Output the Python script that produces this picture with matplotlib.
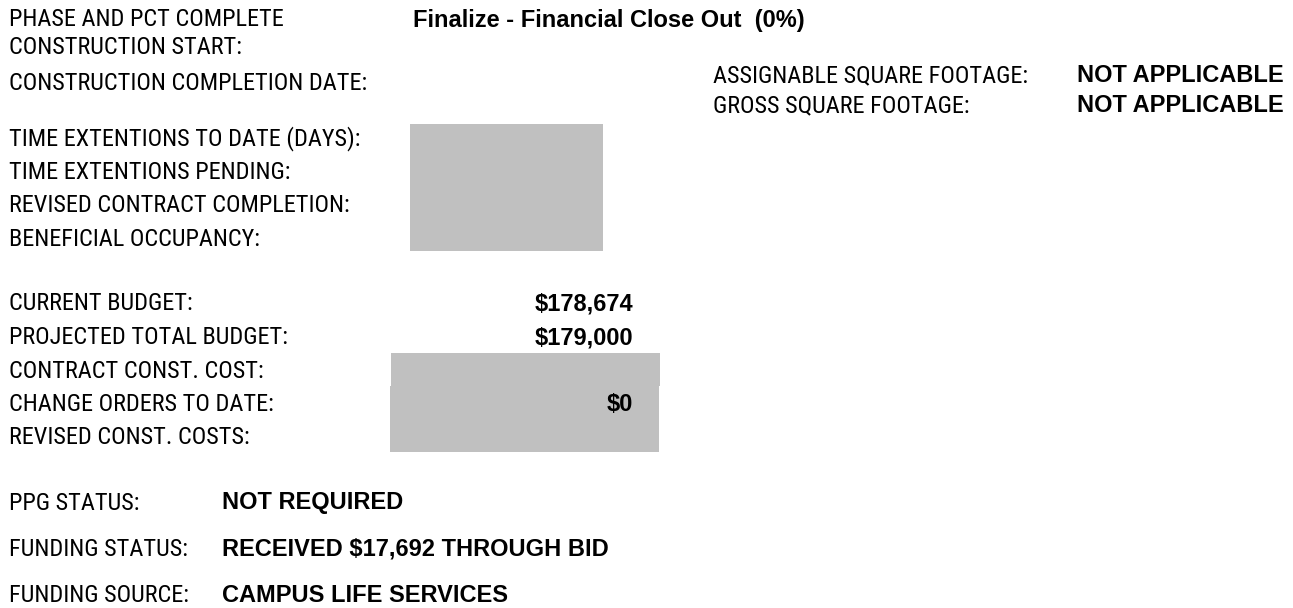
import matplotlib
matplotlib.use("Agg")
import matplotlib.pyplot as plt
from matplotlib.patches import Rectangle
from matplotlib import font_manager

W, H = 1293, 608

# labels and values of the status sheet
group1_labels = ['PHASE AND PCT COMPLETE', 'CONSTRUCTION START:', 'CONSTRUCTION COMPLETION DATE:']
group1_rows = [18, 45, 81]
phase_value = 'Finalize - Financial Close Out  (0%)'
area_labels = ['ASSIGNABLE SQUARE FOOTAGE:', 'GROSS SQUARE FOOTAGE:']
area_values = ['NOT APPLICABLE', 'NOT APPLICABLE']
area_rows = [74, 104]
time_labels = ['TIME EXTENTIONS TO DATE (DAYS):', 'TIME EXTENTIONS PENDING:',
               'REVISED CONTRACT COMPLETION:', 'BENEFICIAL OCCUPANCY:']
budget_labels = ['CURRENT BUDGET:', 'PROJECTED TOTAL BUDGET:', 'CONTRACT CONST. COST:',
                 'CHANGE ORDERS TO DATE:', 'REVISED CONST. COSTS:']
budget_values = ['$178,674', '$179,000', '', '$0', '']
status_labels = ['PPG STATUS:', 'FUNDING STATUS:', 'FUNDING SOURCE:']
status_values = ['NOT REQUIRED', 'RECEIVED $17,692 THROUGH BID', 'CAMPUS LIFE SERVICES']

# look for a narrow sans face (the sheet uses Arial Narrow for labels)
narrow_file = None
for f in font_manager.fontManager.ttflist:
    n = f.name.lower()
    st = str(f.stretch).lower()
    if ('narrow' in n or 'condensed' in n or 'condensed' in st) and f.weight in (400, 'normal', 'regular') \
            and f.style == 'normal' and 'mono' not in n and 'serif' not in n:
        if narrow_file is None or 'liberation' in n or 'roboto' in n:
            narrow_file = f.fname
if narrow_file:
    label_font = font_manager.FontProperties(fname=narrow_file, size=17.5)
else:
    label_font = font_manager.FontProperties(family='Liberation Sans', size=14)
value_font = font_manager.FontProperties(family='Liberation Sans', weight='bold', size=17)

fig = plt.figure(figsize=(W / 100, H / 100), dpi=100)
fig.patch.set_facecolor('white')


def fx(px):
    return px / W


def fy(py):
    return 1 - py / H


def label(x, y, s):
    fig.text(fx(x), fy(y + 8.5), s, fontproperties=label_font,
             ha='left', va='baseline', color='#000000')


def value(x, y, s, ha='left'):
    fig.text(fx(x), fy(y + 8.5), s, fontproperties=value_font,
             ha=ha, va='baseline', color='#000000')


def box(x0, y0, x1, y1):
    fig.add_artist(Rectangle((fx(x0), fy(y1)), fx(x1) - fx(x0), fy(y0) - fy(y1),
                             transform=fig.transFigure, facecolor='#C0C0C0',
                             edgecolor='none', zorder=0))


# gray blocks
box(410, 124, 603, 251)
box(391, 353, 660, 386)
box(390, 386, 659, 452)

for s, y in zip(group1_labels, group1_rows):
    label(9, y, s)
value(413, 18, phase_value)

for s, v, y in zip(area_labels, area_values, area_rows):
    label(713, y, s)
    value(1077, y, v)

for i, s in enumerate(time_labels):
    label(9, 137 + i * 33.5, s)

for i, (s, v) in enumerate(zip(budget_labels, budget_values)):
    label(9, 302 + i * 33.5, s)
    if v:
        value(633, 302 + i * 33.5, v, ha='right')

for i, (s, v) in enumerate(zip(status_labels, status_values)):
    label(9, 501 + i * 46, s)
    value(222, 501 + i * 46, v)

fig.savefig('out.png', dpi=100, facecolor='white')
